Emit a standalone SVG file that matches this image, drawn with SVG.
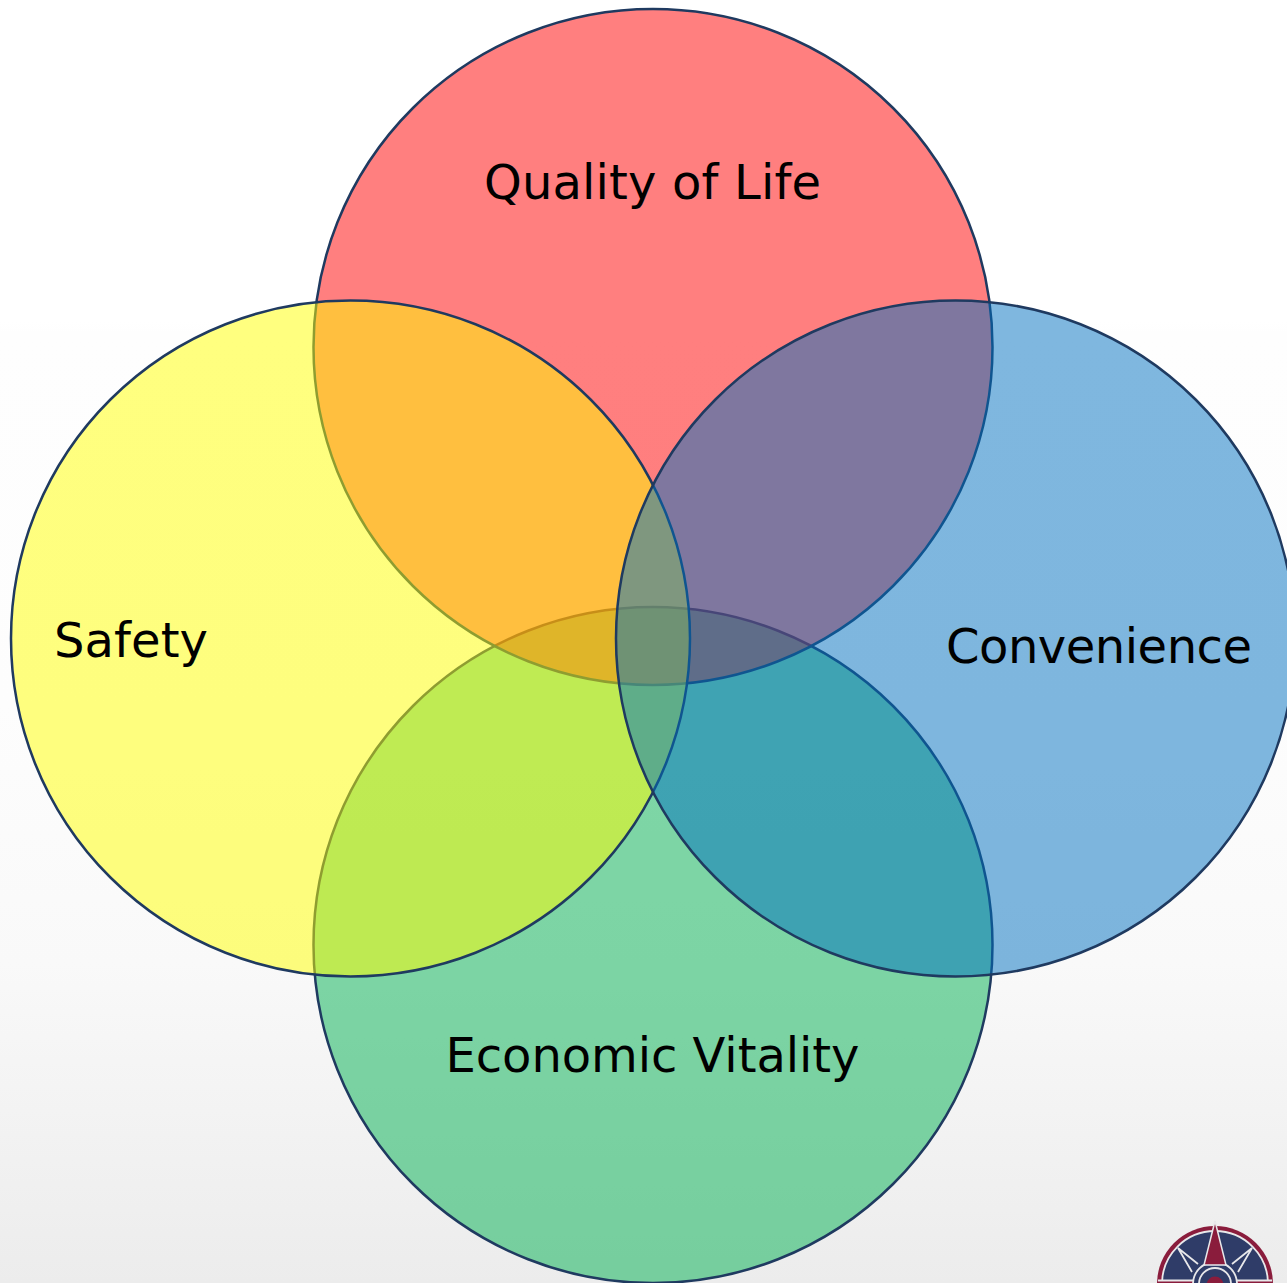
<svg xmlns="http://www.w3.org/2000/svg" width="1287" height="1283" viewBox="0 0 1287 1283">
<style>
.c{stroke:#1f3a60;stroke-width:2.5}
.t{font-family:"DejaVu Sans",Verdana,sans-serif;font-size:48px;fill:#000;text-anchor:middle}
.w{fill:none;stroke:#e8e8ea;stroke-width:1.8}
</style>
<defs>
<linearGradient id="bg" x1="0" y1="0" x2="0" y2="1">
<stop offset="0" stop-color="#fff"/>
<stop offset="0.25" stop-color="#fff"/>
<stop offset="0.26" stop-color="#fefefe"/>
<stop offset="0.55" stop-color="#fdfdfd"/>
<stop offset="0.75" stop-color="#f9f9f9"/>
<stop offset="1" stop-color="#ececec"/>
</linearGradient>
</defs>
<rect width="1287" height="1283" fill="url(#bg)"/>
<g id="economic-vitality"><ellipse class="c" cx="653" cy="945" rx="339.5" ry="338" fill="#00b050" fill-opacity=".5"/></g>
<g id="quality-of-life"><ellipse class="c" cx="653" cy="347" rx="339.5" ry="338" fill="#f00" fill-opacity=".5"/></g>
<g id="safety"><ellipse class="c" cx="350.5" cy="638.5" rx="339.5" ry="338" fill="#ff0" fill-opacity=".5"/></g>
<g id="convenience"><ellipse class="c" cx="955.5" cy="638.5" rx="339.5" ry="338" fill="#0070c0" fill-opacity=".5"/></g>
<g id="labels">
<text class="t" x="652.500" y="199" textLength="337" lengthAdjust="spacing">Quality of Life</text>
<text class="t" x="131" y="657" textLength="154" lengthAdjust="spacing">Safety</text>
<text class="t" x="1099" y="663" textLength="306" lengthAdjust="spacing">Convenience</text>
<text class="t" x="652.500" y="1072" textLength="414" lengthAdjust="spacing">Economic Vitality</text>
</g>
<g id="logo">
<circle cx="1215" cy="1284" r="58" fill="#8a1c3c"/>
<circle cx="1215" cy="1284" r="53" fill="#2f3c68" stroke="#e8e8ea" stroke-width="1.8"/>
<path d="M1158 1281H1272V1283H1158Z" fill="#8a1c3c"/>
<path class="w" d="M1158 1280.500H1272"/>
<path class="w" d="M1198 1264L1178 1248L1192 1272M1232 1264L1252 1248L1238 1272"/>
<circle cx="1215" cy="1284" r="22" fill="#2f3c68" stroke="#e8e8ea" stroke-width="1.8"/>
<circle class="w" cx="1215" cy="1284" r="16"/>
<polygon points="1215,1221 1226,1265 1204,1265" fill="#8a1c3c" stroke="#e8e8ea" stroke-width="1.500"/>
<circle cx="1215" cy="1285" r="8.500" fill="#8a1c3c"/>
</g>
</svg>
